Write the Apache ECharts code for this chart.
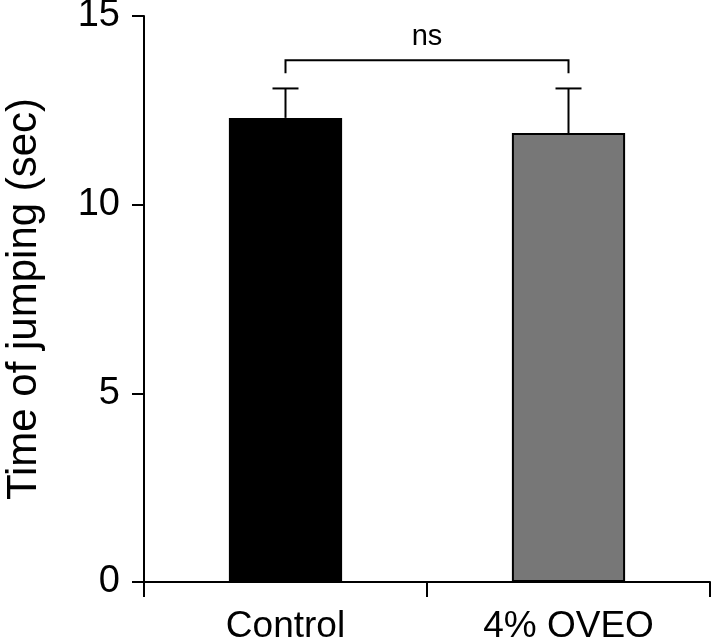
<!DOCTYPE html>
<html>
<head>
<meta charset="utf-8">
<script src="https://cdn.jsdelivr.net/npm/echarts@6/dist/echarts.min.js"></script>
<style>
  html, body { margin: 0; padding: 0; background: #fff; }
  #chart { width: 714px; height: 644px; }
</style>
</head>
<body>
<div id="chart"></div>
<script>
// data
const groups = ['Control', '4% OVEO']
const means = [12.3, 11.9]
const sems = [0.78, 1.18]
const barColors = ['#000000', '#777777']
const yTicks = [0, 5, 10, 15]
// significance bracket: [from, to, top, leg end, label]
const bracket = [[0, 1, 13.83, 13.48, 'ns']]

const font = 'Liberation Sans, Arial, sans-serif'

const chart = echarts.init(document.getElementById('chart'))

const option = {
  animation: false,
  grid: { left: 144, right: 4, top: 16, bottom: 62, outerBoundsMode: 'none' },
  xAxis: {
    type: 'category',
    data: groups,
    axisLine: { lineStyle: { color: '#000', width: 2 } },
    axisTick: { show: true, length: 15, lineStyle: { color: '#000', width: 2 } },
    axisLabel: { color: '#000', fontSize: 37, fontFamily: font, margin: 26 }
  },
  yAxis: {
    type: 'value',
    min: yTicks[0],
    max: yTicks[yTicks.length - 1],
    interval: 5,
    name: 'Time of jumping (sec)',
    nameLocation: 'middle',
    nameRotate: 90,
    nameGap: 99,
    nameTextStyle: { color: '#000', fontSize: 42, fontFamily: font },
    axisLine: { show: true, lineStyle: { color: '#000', width: 2 } },
    axisTick: { show: true, length: 12, lineStyle: { color: '#000', width: 2 } },
    axisLabel: { color: '#000', fontSize: 38, fontFamily: font, margin: 24 },
    splitLine: { show: false }
  },
  series: [
    {
      type: 'bar',
      barWidth: '40%',
      data: means.map((v, i) => ({
        value: v,
        itemStyle: { color: barColors[i], borderColor: '#000', borderWidth: 2 }
      })),
      z: 3
    },
    {
      // error bars (upper only)
      type: 'custom',
      data: means.map((v, i) => [i, v, v + sems[i]]),
      renderItem: (params, api) => {
        const base = api.coord([api.value(0), api.value(1)])
        const top = api.coord([api.value(0), api.value(2)])
        const half = 13
        return {
          type: 'group',
          children: [
            { type: 'line', shape: { x1: base[0], y1: base[1], x2: top[0], y2: top[1] }, style: { stroke: '#000', lineWidth: 2 } },
            { type: 'line', shape: { x1: top[0] - half, y1: top[1], x2: top[0] + half, y2: top[1] }, style: { stroke: '#000', lineWidth: 2 } }
          ]
        }
      },
      z: 2
    },
    {
      // ns bracket
      type: 'custom',
      data: bracket,
      renderItem: (params, api) => {
        const a = api.coord([api.value(0), api.value(2)])
        const b = api.coord([api.value(1), api.value(2)])
        const aLow = api.coord([api.value(0), api.value(3)])
        const bLow = api.coord([api.value(1), api.value(3)])
        return {
          type: 'group',
          children: [
            {
              type: 'polyline',
              shape: { points: [aLow, a, b, bLow] },
              style: { stroke: '#000', lineWidth: 2, fill: null }
            },
            {
              type: 'text',
              style: {
                x: (a[0] + b[0]) / 2,
                y: a[1] - 23,
                text: bracket[params.dataIndex][4],
                fill: '#000',
                font: '29px ' + font,
                align: 'center',
                verticalAlign: 'middle'
              }
            }
          ]
        }
      }
    }
  ]
}

chart.setOption(option)
</script>
</body>
</html>
